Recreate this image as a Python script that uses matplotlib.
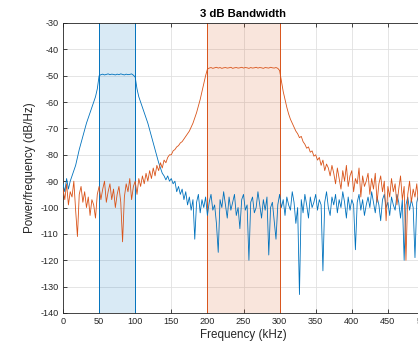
import numpy as np
import matplotlib
matplotlib.use("Agg")
import matplotlib.pyplot as plt

# Power spectral density estimates (dB/Hz) on a 2.5 kHz grid from 0 to 500 kHz
freq_khz = np.linspace(0, 500, 201)

psd_low = [
    -91, -94, -89, -93, -90, -88, -86, -84, -81, -78,
    -75.5, -73, -70.5, -68, -66, -64, -62, -60, -58, -55,
    -50, -49.6, -49.4, -49.7, -49.5, -49.3, -49.6, -49.4, -49.5, -49.7,
    -49.4, -49.6, -49.3, -49.5, -49.7, -49.4, -49.6, -49.5, -49.3, -49.8,
    -50.5, -55, -58, -60, -62, -64, -66, -68, -70.5, -73,
    -75.5, -78, -80.5, -83, -85, -87, -88, -89.5, -88, -90,
    -89, -91, -90, -94, -92, -95, -93, -97, -94, -99,
    -96, -101, -97, -112, -98, -95, -102, -97, -100, -96,
    -103, -98, -95, -101, -99, -106, -117, -97, -100, -94,
    -99, -104, -96, -101, -98, -95, -103, -100, -108, -97,
    -95, -101, -99, -120, -98, -96, -102, -100, -94, -99,
    -104, -97, -101, -96, -118, -100, -98, -105, -112, -99,
    -95, -100, -97, -103, -96, -99, -101, -94, -98, -106,
    -100, -133, -97, -102, -95, -99, -104, -96, -100, -98,
    -95, -101, -97, -99, -124, -98, -94, -100, -103, -96,
    -99, -95, -102, -97, -100, -94, -98, -104, -96, -101,
    -97, -99, -116, -98, -95, -101, -97, -103, -99, -96,
    -100, -94, -98, -102, -96, -99, -105, -97, -95, -100,
    -98, -103, -96, -99, -101, -95, -98, -104, -97, -120,
    -99, -96, -101, -97, -100, -119, -98, -95, -102, -99,
    -97,
]

psd_high = [
    -93, -97, -91, -99, -94, -96, -90, -101, -111, -95,
    -92, -98, -94, -100, -96, -103, -97, -99, -104, -95,
    -92, -97, -93, -90, -98, -94, -91, -97, -93, -100,
    -95, -92, -98, -113, -96, -91, -94, -89, -97, -92,
    -90, -95, -89, -92, -88, -91, -87, -90, -86, -89,
    -85, -88, -84, -86, -83, -85, -82, -83, -81, -80,
    -80, -78.5, -78, -77, -76.5, -75.5, -75, -74, -73, -72,
    -71, -69.5, -68, -66, -64, -61.5, -59, -56, -53, -50,
    -47.5, -47.1, -46.9, -47.2, -47.0, -46.8, -47.1, -46.9, -47.2, -47.0,
    -46.9, -47.1, -47.0, -46.8, -47.2, -47.0, -46.9, -47.1, -47.0, -46.8,
    -47.1, -46.9, -47.0, -47.2, -46.9, -47.1, -47.0, -46.8, -47.1, -46.9,
    -47.0, -47.2, -46.9, -47.0, -47.1, -46.8, -47.0, -47.1, -46.9, -47.2,
    -48, -52, -56, -59, -62, -64.5, -66.5, -68, -69.5, -71,
    -72, -73.5, -73, -75, -76, -77.5, -77, -79, -78.5, -80.5,
    -80, -82, -81, -84, -82, -86, -83.5, -85, -88, -84,
    -87, -91, -85, -89, -93, -86, -90, -84, -92, -88,
    -86, -94, -89, -91, -85, -96, -88, -92, -90, -87,
    -95, -89, -93, -87, -98, -91, -88, -94, -90, -105,
    -92, -96, -89, -94, -91, -99, -93, -88, -97, -92,
    -120, -95, -90, -98, -93, -96, -91, -99, -94, -97,
    -95,
]

# 3 dB bandwidth limits (kHz)
band_low = (50, 100)
band_high = (200, 300)

x_ticks = [0, 50, 100, 150, 200, 250, 300, 350, 400, 450, 500]
y_ticks = [-140, -130, -120, -110, -100, -90, -80, -70, -60, -50, -40, -30]

blue = "#0072BD"
orange = "#D95319"
axis_gray = "#262626"

plt.rcParams["font.family"] = ["Liberation Sans", "DejaVu Sans"]
plt.rcParams["axes.unicode_minus"] = False

fig = plt.figure(figsize=(4.18, 3.55), dpi=100)
ax = fig.add_axes([63 / 418, 42 / 355, 361 / 418, 290 / 355])

ax.axvspan(*band_low, facecolor=blue, alpha=0.15, edgecolor="none", zorder=1)
ax.axvspan(*band_high, facecolor=orange, alpha=0.15, edgecolor="none", zorder=1)
for xv in band_low:
    ax.axvline(xv, color=blue, lw=0.7, zorder=2)
for xv in band_high:
    ax.axvline(xv, color=orange, lw=0.7, zorder=2)

ax.plot(freq_khz, psd_low, color=blue, lw=0.6, zorder=3)
ax.plot(freq_khz, psd_high, color=orange, lw=0.6, zorder=4)

ax.set_xlim(0, 500)
ax.set_ylim(-140, -30)
ax.set_xticks(x_ticks)
ax.set_yticks(y_ticks)
ax.grid(True, color="#e0e0e0", lw=0.6, zorder=0)
ax.set_axisbelow(True)

ax.tick_params(direction="in", length=3, width=0.6, colors=axis_gray,
               labelsize=6.6, top=True, right=True, pad=3)
for sp in ax.spines.values():
    sp.set_color(axis_gray)
    sp.set_linewidth(0.6)

ax.set_xlabel("Frequency (kHz)", fontsize=8.4, color=axis_gray, labelpad=2)
ax.set_ylabel("Power/frequency (dB/Hz)", fontsize=8.4, color=axis_gray, labelpad=3)
ax.set_title("3 dB Bandwidth", fontsize=8.2, fontweight="bold", color="black", pad=4)

fig.savefig("out.png", dpi=100)
